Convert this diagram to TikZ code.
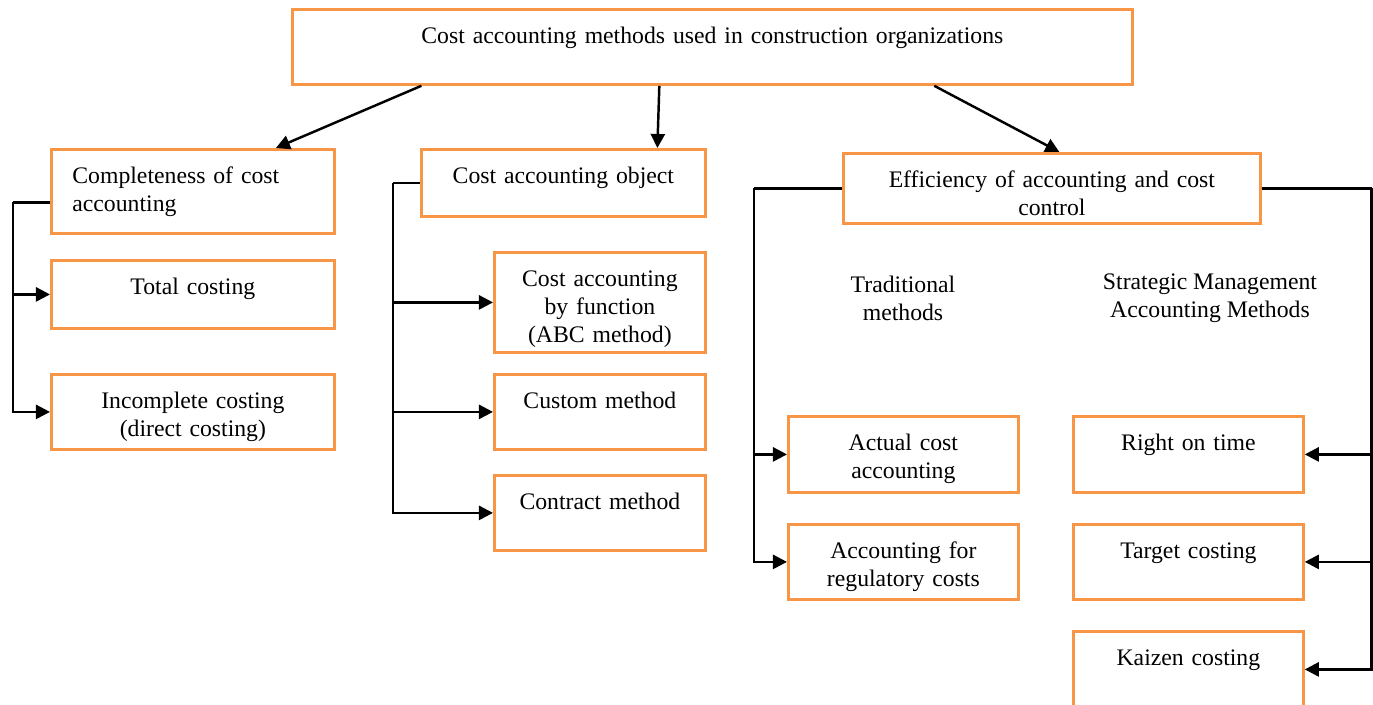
\documentclass[tikz,border=0pt]{standalone}
\usepackage{fontspec}
\setmainfont{Liberation Serif}
\usetikzlibrary{arrows.meta}
\definecolor{boxorange}{HTML}{F79646}
\tikzset{
  box/.style={draw=boxorange, line width=1.6pt, anchor=north west, inner xsep=0pt, inner ysep=0pt,
    align=center, text height=0.68cm, font=\fontsize{13.5}{15.9}\selectfont},
  txt/.style={align=center, font=\fontsize{13.5}{15.9}\selectfont},
  line/.style={draw=black, line width=1.4pt},
  arr/.style={line, -{Triangle[length=8pt,width=8pt]}}
}
\begin{document}
\begin{tikzpicture}[x=0.02cm, y=-0.02cm]
    \useasboundingbox (0,0) rectangle (1373,704);

    \node[box, text width=16.8cm, text depth=0.82cm] (top) at (291,8) {Cost accounting methods used in construction organizations};

    \node[box, text width=4.82cm, inner xsep=0.42cm, align=left, text depth=1.0cm] (comp) at (50,148) {Completeness of cost\\accounting};
    \node[box, text width=5.66cm, text depth=0.68cm] (total) at (50,259) {Total costing};
    \node[box, text width=5.66cm, text depth=0.82cm] (incomplete) at (50,373) {Incomplete costing\\(direct costing)};

    \node[box, text width=5.68cm, text depth=0.66cm] (object) at (420,148) {Cost accounting object};
    \node[box, text width=4.22cm, text depth=1.32cm] (abc) at (493,251) {Cost accounting\\by function\\(ABC method)};
    \node[box, text width=4.22cm, text depth=0.82cm] (custom) at (493,373) {Custom method};
    \node[box, text width=4.22cm, text depth=0.82cm] (contract) at (493,474) {Contract method};

    \node[box, text width=8.34cm, text depth=0.72cm] (efficiency) at (842,152) {Efficiency of accounting and cost\\control};
    \node[txt] (trad) at (903,298) {Traditional\\methods};
    \node[txt] (smam) at (1210,298) {Strategic Management\\Accounting Methods};
    \node[box, text width=4.6cm, text depth=0.84cm] (actual) at (787,415) {Actual cost\\accounting};
    \node[box, text width=4.6cm, text depth=0.82cm] (regulatory) at (787,523) {Accounting for\\regulatory costs};
    \node[box, text width=4.6cm, text depth=0.84cm] (ontime) at (1072,415) {Right on time};
    \node[box, text width=4.6cm, text depth=0.82cm] (target) at (1072,523) {Target costing};
    \node[box, text width=4.6cm, text depth=0.84cm] (kaizen) at (1072,630) {Kaizen costing};

    % from the main box
    \draw[arr] ([xshift=-5.82cm]top.south) -- ([xshift=1.66cm]comp.north);
    \draw[arr] ([xshift=-1.06cm]top.south) -- ([xshift=1.88cm]object.north);
    \draw[arr] ([xshift=4.44cm]top.south) -- ([xshift=0.15cm]efficiency.north);

    % brackets
    \coordinate (lbus) at ([xshift=-0.74cm, yshift=-0.22cm]comp.west);
    \draw[line] ([yshift=-0.22cm]comp.west) -- (lbus);
    \draw[arr] (lbus) |- (total.west);
    \draw[arr] (lbus) |- (incomplete.west);

    \coordinate (obus) at ([xshift=-0.54cm]object.west);
    \draw[line] (object.west) -- (obus);
    \draw[arr] (obus) |- (abc.west);
    \draw[arr] (obus) |- (custom.west);
    \draw[arr] (obus) |- (contract.west);

    \coordinate (ebus) at ([xshift=-1.76cm]efficiency.west);
    \draw[line] (efficiency.west) -- (ebus);
    \draw[arr] (ebus) |- (actual.west);
    \draw[arr] (ebus) |- (regulatory.west);

    \coordinate (sbus) at ([xshift=2.2cm]efficiency.east);
    \draw[line] (efficiency.east) -- (sbus);
    \draw[arr] (sbus) |- (ontime.east);
    \draw[arr] (sbus) |- (target.east);
    \draw[arr] (sbus) |- (kaizen.east);
\end{tikzpicture}
\end{document}
